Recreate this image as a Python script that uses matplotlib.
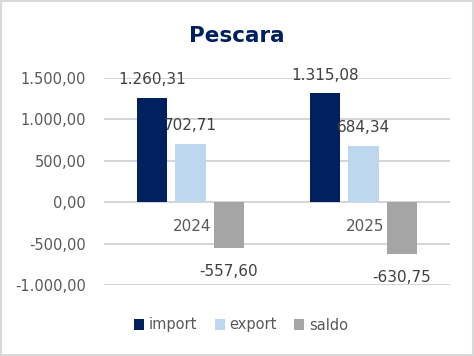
import numpy as np
import matplotlib
matplotlib.use("Agg")
import matplotlib.pyplot as plt
from matplotlib.patches import Rectangle
from matplotlib.ticker import FuncFormatter

# data
years = ["2024", "2025"]
series_names = ["import", "export", "saldo"]
import_vals = [1260.31, 1315.08]
export_vals = [702.71, 684.34]
saldo_vals = [-557.60, -630.75]
colors = ["#002060", "#BDD7EE", "#A5A5A5"]


def it_fmt(v, pos=None):
    s = f"{abs(v):,.2f}".replace(",", "X").replace(".", ",").replace("X", ".")
    return ("-" if v < 0 else "") + s


plt.rcParams["font.family"] = "DejaVu Sans"
text_grey = "#595959"

fig = plt.figure(figsize=(4.74, 3.56), dpi=100)
ax = fig.add_axes([104 / 474, 1 - 285 / 356, 346 / 474, 207 / 356])

x = np.arange(len(years))
width = 0.175
offsets = [-0.2225, 0.0, 0.2225]
all_vals = [import_vals, export_vals, saldo_vals]

for vals, off, col, name in zip(all_vals, offsets, colors, series_names):
    bars = ax.bar(x + off, vals, width, color=col, label=name, zorder=3)
    for b, v in zip(bars, vals):
        dy = 13 if v >= 0 else -16.5
        ax.annotate(it_fmt(v), (b.get_x() + b.get_width() / 2, v),
                    xytext=(0, dy), textcoords="offset points",
                    ha="center", va="center", fontsize=11, color="#404040", zorder=4)

# category labels next to the zero line
for xi, yr in zip(x, years):
    ax.annotate(yr, (xi, 0), xytext=(1, -17.5), textcoords="offset points",
                ha="center", va="center", fontsize=11, color=text_grey, zorder=4)

ax.set_xlim(-0.5, 1.5)
ax.set_ylim(-1000, 1500)
ax.set_yticks([-1000, -500, 0, 500, 1000, 1500])
ax.yaxis.set_major_formatter(FuncFormatter(it_fmt))
ax.set_xticks([])
ax.tick_params(axis="y", length=0, labelsize=10.5, labelcolor=text_grey, pad=13)
ax.grid(axis="y", color="#D4D4D4", linewidth=1.4, zorder=0)
for sp in ax.spines.values():
    sp.set_visible(False)

fig.text(237 / 474, 1 - 36 / 356, "Pescara", ha="center", va="center",
         fontsize=15.5, fontweight="bold", color="#002060")

fig.legend(loc="center", bbox_to_anchor=(241 / 474, 1 - 325 / 356), ncol=3,
           frameon=False, fontsize=10.5, handlelength=0.7, handleheight=0.7,
           handletextpad=0.3, columnspacing=1.2, labelcolor=text_grey)

fig.patches.append(Rectangle((0.003, 0.004), 0.994, 0.992, transform=fig.transFigure,
                             fill=False, edgecolor="#D9D9D9", linewidth=1.5))

fig.savefig("out.png", dpi=100)
